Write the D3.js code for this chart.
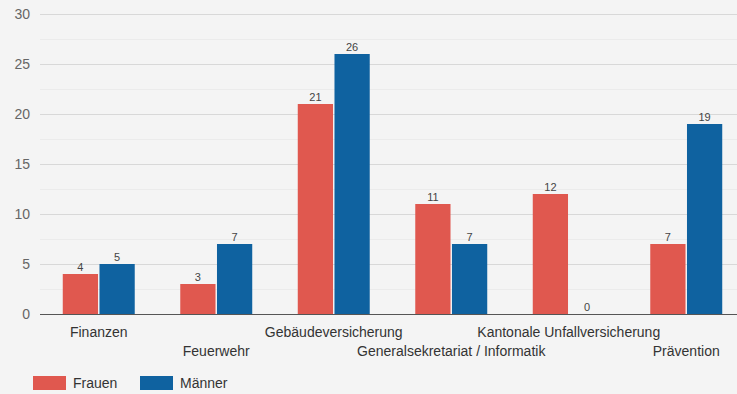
<!DOCTYPE html>
<html><head><meta charset="utf-8">
<script src="https://cdn.jsdelivr.net/npm/d3@7"></script>
<style>
html,body{margin:0;padding:0;background:#f4f4f4;}
svg{display:block;font-family:"Liberation Sans",Arial,sans-serif;}
</style></head>
<body>
<svg id="c" width="737" height="394"></svg>
<script>
const categories = ["Finanzen","Feuerwehr","Gebäudeversicherung","Generalsekretariat / Informatik","Kantonale Unfallversicherung","Prävention"];
const seriesNames = ["Frauen","Männer"];
const frauen = [4,3,21,11,12,7];
const maenner = [5,7,26,7,0,19];
const yTicks = [0,5,10,15,20,25,30];
const colors = ["#e0584f","#0f62a0"];

const svg = d3.select("#c");
svg.append("rect").attr("width",737).attr("height",394).attr("fill","#f4f4f4");
const x = d3.scaleBand().domain(categories).range([40,745]);
const y = d3.scaleLinear().domain([0,30]).range([314,14]);
const xs = d3.scaleBand().domain(seriesNames).range([0,x.bandwidth()]).paddingInner(0.04).paddingOuter(0.62);

// minor grid
const minor = d3.range(2.5,30,5);
svg.append("g").selectAll("line").data(minor).join("line")
  .attr("x1",40).attr("x2",737).attr("y1",d=>y(d)+0.5).attr("y2",d=>y(d)+0.5)
  .attr("stroke","#ebebeb").attr("stroke-width",1);
// major grid
svg.append("g").selectAll("line").data(yTicks.filter(d=>d>0)).join("line")
  .attr("x1",40).attr("x2",737).attr("y1",d=>y(d)+0.5).attr("y2",d=>y(d)+0.5)
  .attr("stroke","#d8d8d8").attr("stroke-width",1);

// y axis labels
const yAxis = d3.axisLeft(y).tickValues(yTicks).tickSize(0).tickPadding(10);
const ya = svg.append("g").attr("transform","translate(40,0)").call(yAxis);
ya.select(".domain").remove();
ya.selectAll("text").attr("fill","#666").style("font-size","14px").attr("font-family","Liberation Sans, Arial, sans-serif");

const data = categories.map((c,i)=>({c, vals:[{s:"Frauen",v:frauen[i]},{s:"Männer",v:maenner[i]}]}));
const g = svg.append("g").selectAll("g").data(data).join("g").attr("transform",d=>`translate(${x(d.c)},0)`);
g.selectAll("rect").data(d=>d.vals).join("rect")
  .attr("x",d=>xs(d.s)).attr("width",xs.bandwidth())
  .attr("y",d=>y(d.v)).attr("height",d=>y(0)-y(d.v))
  .attr("fill",(d,i)=>colors[i]);
g.selectAll("text").data(d=>d.vals).join("text")
  .attr("x",d=>xs(d.s)+xs.bandwidth()/2).attr("y",d=>y(d.v)-3)
  .attr("text-anchor","middle").attr("fill","#444").style("font-size","11px")
  .text(d=>d.v);

// x axis line
svg.append("line").attr("x1",40).attr("x2",737).attr("y1",314.5).attr("y2",314.5).attr("stroke","#555").attr("stroke-width",1);

// x labels staggered
svg.append("g").selectAll("text").data(categories).join("text")
  .attr("x",d=>x(d)+x.bandwidth()/2)
  .attr("y",(d,i)=> i%2===0 ? 337 : 356)
  .attr("text-anchor","middle").attr("fill","#333").style("font-size","14px")
  .text(d=>d);

// legend
const leg = svg.append("g").selectAll("g").data(seriesNames).join("g")
  .attr("transform",(d,i)=>`translate(${33+i*107},376)`);
leg.append("rect").attr("width",33).attr("height",14).attr("fill",(d,i)=>colors[i]);
leg.append("text").attr("x",40).attr("y",12).attr("fill","#333").style("font-size","14px").text(d=>d);
</script>
</body></html>
